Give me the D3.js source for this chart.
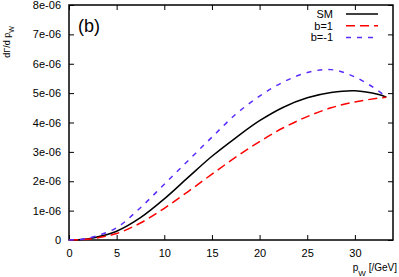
<!DOCTYPE html>
<html>
<head>
<meta charset="utf-8">
<script src="https://cdn.jsdelivr.net/npm/d3@7"></script>
<style>
  body { margin: 0; background: #fff; }
  text { font-family: "Liberation Sans", Arial, sans-serif; }
</style>
</head>
<body>
<div id="chart"></div>
<script>
// p_W values (GeV)
const pw = [0, 1.25, 2.5, 5, 7.5, 10, 12.5, 15, 17.5, 20, 22.5, 25, 27.5, 30, 32.5, 33.3];
// dGamma/dp_W, units of 1e-6
const smVals     = [0, 0.015, 0.07, 0.30, 0.76, 1.40, 2.13, 2.85, 3.48, 4.06, 4.52, 4.84, 5.02, 5.08, 4.95, 4.86];
const bPlusVals  = [0, 0.01, 0.05, 0.22, 0.58, 1.08, 1.65, 2.24, 2.82, 3.35, 3.82, 4.20, 4.50, 4.70, 4.83, 4.86];
const bMinusVals = [0, 0.02, 0.10, 0.42, 1.10, 1.90, 2.70, 3.50, 4.28, 4.90, 5.38, 5.70, 5.80, 5.55, 5.07, 4.86];
const seriesNames = ['SM', 'b=1', 'b=-1'];
const xTicks = [0, 5, 10, 15, 20, 25, 30];
const yTicks = [0, 1, 2, 3, 4, 5, 6, 7, 8];

const width = 399, height = 277;
const margin = { top: 5, right: 6, bottom: 37, left: 69 };
const innerW = width - margin.left - margin.right;
const innerH = height - margin.top - margin.bottom;

const svg = d3.select('#chart')
    .append('svg')
    .attr('width', width)
    .attr('height', height);

const g = svg.append('g')
    .attr('transform', `translate(${margin.left},${margin.top})`);

const x = d3.scaleLinear().domain([0, 34]).range([0, innerW]);
const y = d3.scaleLinear().domain([0, 8]).range([innerH, 0]);

const fmtY = d => d === 0 ? '0' : d + 'e-06';

// ticks (inside, mirrored on all sides)
g.append('g')
    .attr('transform', `translate(0,${innerH})`)
    .call(d3.axisBottom(x).tickValues(xTicks).tickSize(-5).tickPadding(9).tickFormat(d3.format('d')))
    .call(a => a.select('.domain').remove());
g.append('g')
    .call(d3.axisTop(x).tickValues(xTicks).tickSize(-5).tickFormat(''))
    .call(a => a.select('.domain').remove());
g.append('g')
    .call(d3.axisLeft(y).tickValues(yTicks).tickSize(-5).tickPadding(8).tickFormat(fmtY))
    .call(a => a.select('.domain').remove());
g.append('g')
    .attr('transform', `translate(${innerW},0)`)
    .call(d3.axisRight(y).tickValues(yTicks).tickSize(-5).tickFormat(''))
    .call(a => a.select('.domain').remove());

g.selectAll('.tick text')
    .attr('font-size', 11)
    .attr('font-family', '"Liberation Sans", Arial, sans-serif')
    .attr('fill', '#000');
g.selectAll('.tick line').attr('stroke', '#000');

// frame
g.append('rect')
    .attr('width', innerW)
    .attr('height', innerH)
    .attr('fill', 'none')
    .attr('stroke', '#000')
    .attr('stroke-width', 1.5);

const series = [
    { name: seriesNames[0], vals: smVals, color: '#000000', dash: null },
    { name: seriesNames[1], vals: bPlusVals, color: '#ff0000', dash: '9,5' },
    { name: seriesNames[2], vals: bMinusVals, color: '#5b2cff', dash: '5,6' }
];

const line = d3.line()
    .x(d => x(d[0]))
    .y(d => y(d[1]))
    .curve(d3.curveCatmullRom.alpha(0.5));

g.selectAll('path.curve')
    .data(series)
    .join('path')
    .attr('class', 'curve')
    .attr('d', s => line(pw.map((p, i) => [p, s.vals[i]])))
    .attr('fill', 'none')
    .attr('stroke', s => s.color)
    .attr('stroke-width', 1.5)
    .attr('stroke-dasharray', s => s.dash);

// legend
const legend = g.append('g')
    .attr('transform', `translate(${333 - margin.left}, ${14 - margin.top})`);
legend.selectAll('text')
    .data(series)
    .join('text')
    .attr('x', 0)
    .attr('y', (_, i) => i * 11.8)
    .attr('dy', '0.35em')
    .attr('text-anchor', 'end')
    .attr('font-size', 11)
    .text(s => s.name);
legend.selectAll('line')
    .data(series)
    .join('line')
    .attr('x1', 13)
    .attr('x2', 45)
    .attr('y1', (_, i) => i * 11.8)
    .attr('y2', (_, i) => i * 11.8)
    .attr('stroke', s => s.color)
    .attr('stroke-width', 1.5)
    .attr('stroke-dasharray', s => s.dash);

// panel label
g.append('text')
    .attr('x', 9)
    .attr('y', 27)
    .attr('font-size', 18)
    .text('(b)');

// axis labels
svg.append('text')
    .attr('transform', 'translate(10,42) rotate(-90)')
    .attr('text-anchor', 'middle')
    .attr('font-size', 9)
    .html('dΓ/d p<tspan baseline-shift="sub" font-size="7">W</tspan>');

svg.append('text')
    .attr('x', 397)
    .attr('y', 271)
    .attr('text-anchor', 'end')
    .attr('font-size', 10)
    .html('p<tspan baseline-shift="sub" font-size="8">W</tspan> [/GeV]');
</script>
</body>
</html>
